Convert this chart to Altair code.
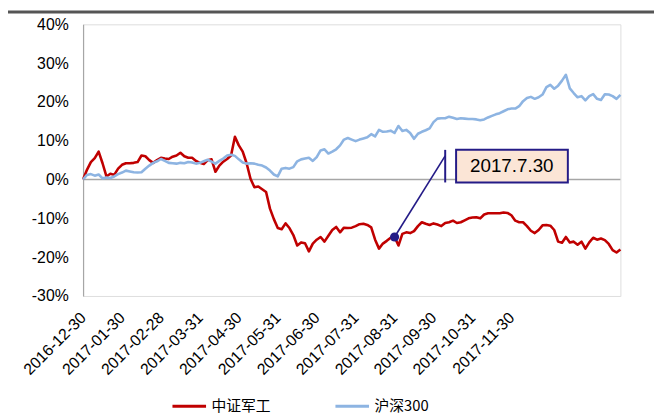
import altair as alt
import pandas as pd

# ---- data (percent) ----
labels = ["2016-12-30", "2017-01-30", "2017-02-28", "2017-03-31", "2017-04-30",
          "2017-05-31", "2017-06-30", "2017-07-31", "2017-08-31", "2017-09-30",
          "2017-10-31", "2017-11-30"]
label_step = 10

series_names = ["中证军工", "沪深300"]

jungong = [0, 2.5, 4.5, 5.5, 7.2, 4.2, 0.8, 1.5, 1.2, 2.8,
           3.8, 4.2, 4.2, 4.3, 4.5, 6.2, 6.0, 5.0, 4.3, 5.0,
           5.6, 5.4, 5.3, 5.9, 6.2, 6.9, 6.0, 5.6, 5.6, 4.8,
           4.3, 4.0, 5.0, 5.2, 2.0, 3.6, 4.6, 5.3, 6.2, 11.0,
           8.8, 7.2, 4.2, 0.2, -2.0, -1.8, -2.5, -3.2, -7.5, -10.2,
           -12.5, -12.8, -11.3, -12.5, -14.3, -17.0, -16.2, -16.4, -18.5, -16.5,
           -15.5, -14.8, -16.0, -14.5, -13.0, -12.2, -13.6, -12.4, -12.5, -12.4,
           -12.0, -11.5, -11.4, -11.7, -12.3, -15.5, -17.8, -16.5, -15.8, -15.0,
           -14.8, -17.0, -14.0, -13.6, -13.8, -13.3, -12.0, -11.0, -11.4, -11.7,
           -11.3, -11.6, -12.0, -11.2, -11.0, -10.6, -11.2, -11.0, -10.5, -10.0,
           -9.8, -9.7, -10.0, -9.0, -8.7, -8.7, -8.7, -8.7, -8.5, -8.6,
           -9.2, -10.6, -11.0, -11.0, -12.0, -13.2, -13.8, -13.0, -11.8, -11.7,
           -11.9, -13.0, -16.0, -16.3, -14.8, -16.2, -16.0, -16.8, -16.0, -17.8,
           -16.2, -15.0, -15.5, -15.2, -15.6, -16.6, -18.2, -18.8, -18.0]

hs300 = [0, 1.2, 1.4, 1.0, 1.3, 0.3, 0.5, 0.4, 0.8, 1.4,
         1.8, 2.3, 2.1, 1.9, 1.8, 1.9, 2.8, 3.6, 4.3, 4.7,
         5.3, 4.8, 4.3, 4.2, 4.1, 4.3, 4.2, 4.5, 4.4, 4.1,
         4.3, 4.7, 5.1, 4.6, 4.1, 4.8, 5.4, 6.2, 6.4, 6.1,
         5.2, 4.4, 4.1, 4.2, 4.1, 3.8, 3.6, 3.1, 2.3, 1.3,
         0.8, 2.8, 3.0, 2.8, 3.2, 4.7, 5.2, 5.4, 5.6, 4.8,
         5.8, 7.5, 7.8, 6.7, 7.2, 7.8, 8.8, 10.3, 10.7, 10.3,
         9.9, 10.3, 10.6, 10.9, 11.7, 11.1, 12.8, 12.3, 12.4, 12.6,
         12.0, 13.8, 12.5, 12.8, 12.0, 10.5, 11.8, 12.3, 12.7, 13.2,
         14.8, 15.7, 15.8, 15.8, 16.2, 15.9, 15.6, 15.8, 15.7, 15.6,
         15.6, 15.5, 15.3, 15.5, 16.0, 16.4, 16.8, 17.1, 17.6, 18.1,
         18.3, 18.3, 18.9, 20.2, 21.0, 21.3, 20.8, 21.2, 21.9, 23.8,
         24.4, 23.4, 24.2, 25.5, 27.0, 23.5, 22.3, 21.2, 21.5, 20.4,
         21.5, 22.0, 20.8, 20.5, 22.0, 21.9, 21.5, 20.8, 21.8]

y_ticks = [-30, -20, -10, 0, 10, 20, 30, 40]

# annotation (data coordinates: index, percent)
ann_point = {"i": 80, "v": -14.8}
ann_lead_end = {"i": 93, "v": 6.1}
ann_box = {"i": 95.8, "i2": 124.5, "v": -0.75, "v2": 7.65}
ann_text = {"i": 110.1, "v": 3.45, "t": "2017.7.30"}

# ---- build tables ----
n = len(jungong)
rows = []
for k in range(n):
    rows.append({"i": k, "v": jungong[k], "s": series_names[0]})
for k in range(n):
    rows.append({"i": k, "v": hs300[k], "s": series_names[1]})
df = pd.DataFrame(rows)

NAVY = "#241B87"
FONT = "Liberation Sans"
CJK = "Noto Sans CJK SC"

label_js = "[" + ",".join("'" + s + "'" for s in labels) + "]"

x_scale = alt.Scale(domain=[0, n - 1], nice=False, zero=False)
y_scale = alt.Scale(domain=[y_ticks[0], y_ticks[-1]], nice=False, zero=False)

x_axis = alt.Axis(
    values=[k * label_step for k in range(len(labels))],
    labelExpr=label_js + "[round(datum.value/" + str(label_step) + ")]",
    labelAngle=-45, labelAlign="right", labelBaseline="middle",
    labelPadding=19, labelFlush=False, labelOverlap=False,
    labelFont=FONT, labelFontSize=16, labelColor="#000000",
    domain=False, ticks=False, grid=False, title=None)

y_axis = alt.Axis(
    values=y_ticks, labelExpr="datum.value + '%'",
    labelFont=FONT, labelFontSize=16, labelColor="#000000", labelPadding=15,
    labelOverlap=False, labelFlush=False,
    domain=True, domainColor="#A6A6A6", domainWidth=1.2,
    ticks=False, grid=False, title=None)


def X(f):
    return alt.X(f, scale=x_scale, axis=x_axis)


def Y(f):
    return alt.Y(f, scale=y_scale, axis=y_axis)


zero = alt.Chart(pd.DataFrame({"z": [0]})).mark_rule(
    color="#A6A6A6", strokeWidth=1.5).encode(y=Y("z:Q"))

lines = alt.Chart(df).mark_line(strokeWidth=2.6, strokeJoin="round").encode(
    x=X("i:Q"), y=Y("v:Q"),
    color=alt.Color("s:N", scale=alt.Scale(domain=series_names, range=["#C00000", "#8DB4E2"]),
                    sort=series_names,
                    legend=alt.Legend(orient="none", legendX=89, legendY=368,
                                      direction="horizontal", title=None,
                                      symbolType="stroke", symbolSize=1156,
                                      symbolStrokeWidth=3, labelFont=CJK,
                                      labelFontSize=15, labelColor="#000000",
                                      labelOffset=4, columnPadding=58, padding=0)),
    order=alt.Order("i:Q"))

lead = alt.Chart(pd.DataFrame([{"i": ann_point["i"], "v": ann_point["v"],
                                "i2": ann_lead_end["i"], "v2": ann_lead_end["v"]}])).mark_rule(
    color=NAVY, strokeWidth=1.6).encode(
    x=X("i:Q"), y=Y("v:Q"), x2="i2:Q", y2="v2:Q")

bar = alt.Chart(pd.DataFrame([{"i": ann_lead_end["i"], "v": ann_box["v"], "v2": ann_box["v2"]}])).mark_rule(
    color=NAVY, strokeWidth=2).encode(
    x=X("i:Q"), y=Y("v:Q"), y2="v2:Q")

box = alt.Chart(pd.DataFrame([ann_box])).mark_rect(
    fill="#FBE5D6", stroke=NAVY, strokeWidth=2).encode(
    x=X("i:Q"), x2="i2:Q", y=Y("v:Q"), y2="v2:Q")

txt = alt.Chart(pd.DataFrame([ann_text])).mark_text(
    font=FONT, fontSize=19, color="#000000", align="center", baseline="middle").encode(
    x=X("i:Q"), y=Y("v:Q"), text="t:N")

dot = alt.Chart(pd.DataFrame([ann_point])).mark_point(
    filled=True, size=85, color=NAVY, opacity=1).encode(
    x=X("i:Q"), y=Y("v:Q"))

topline = alt.Chart(pd.DataFrame({"z": [0]})).mark_rule(
    color="#555555", strokeWidth=3).encode(
    x=alt.value(-76), x2=alt.value(578), y=alt.value(-12.5))

chart = alt.layer(zero, lines, lead, bar, box, txt, dot, topline).properties(
    width=544, height=275,
    padding={"left": 76, "top": 14, "right": 34, "bottom": 119},
    autosize=alt.AutoSizeParams(type="none"),
).configure_view(stroke="transparent", strokeWidth=0).configure(background="#ffffff")

chart.save("out.html", embed_options={"renderer": "svg", "actions": False})
